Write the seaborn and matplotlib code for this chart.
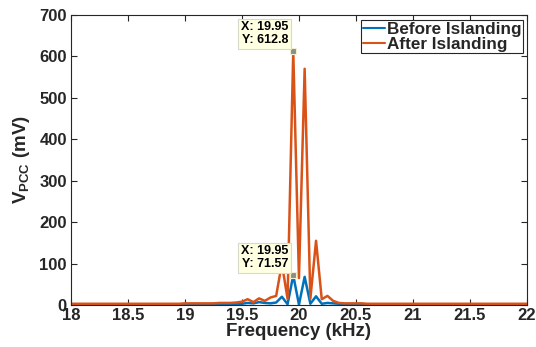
import matplotlib
matplotlib.use("Agg")
import matplotlib.pyplot as plt
import pandas as pd
import seaborn as sns

# Spectrum samples (kHz) and PCC voltage magnitude (mV)
freq_khz = [
    18.00, 18.05, 18.10, 18.15, 18.20, 18.25, 18.30, 18.35, 18.40, 18.45,
    18.50, 18.55, 18.60, 18.65, 18.70, 18.75, 18.80, 18.85, 18.90, 18.95,
    19.00, 19.05, 19.10, 19.15, 19.20, 19.25, 19.30, 19.35, 19.40, 19.45,
    19.50, 19.55, 19.60, 19.65, 19.70, 19.75, 19.80, 19.85, 19.90, 19.95,
    20.00, 20.05, 20.10, 20.15, 20.20, 20.25, 20.30, 20.35, 20.40, 20.45,
    20.50, 20.55, 20.60, 20.65, 20.70, 20.75, 20.80, 20.85, 20.90, 20.95,
    21.00, 21.05, 21.10, 21.15, 21.20, 21.25, 21.30, 21.35, 21.40, 21.45,
    21.50, 21.55, 21.60, 21.65, 21.70, 21.75, 21.80, 21.85, 21.90, 21.95,
    22.00,
]
before_mv = [
    1, 1, 1, 1, 1, 1, 1, 1, 1, 1,
    1, 1, 1, 1, 1, 1, 1, 1, 1, 1,
    2, 2, 2, 2, 2, 2, 2, 3, 3, 3,
    3, 5, 4, 7, 5, 4, 6, 20, 2, 71.57,
    1, 68, 3, 21, 3, 5, 4, 3, 2, 2,
    2, 2, 1, 1, 1, 1, 1, 1, 1, 1,
    1, 1, 1, 1, 1, 1, 1, 1, 1, 1,
    1, 1, 1, 1, 1, 1, 1, 1, 1, 1,
    1,
]
after_mv = [
    3, 3, 3, 3, 3, 3, 3, 3, 3, 3,
    3, 3, 3, 3, 3, 3, 3, 3, 3, 3,
    4, 4, 4, 4, 4, 4, 5, 5, 5, 6,
    8, 14, 7, 16, 10, 18, 22, 100, 15, 612.8,
    65, 570, 15, 155, 14, 22, 10, 5, 4, 4,
    4, 4, 3, 3, 3, 3, 3, 3, 3, 3,
    3, 3, 3, 3, 3, 3, 3, 3, 3, 3,
    3, 3, 3, 3, 3, 3, 3, 3, 3, 3,
    3,
]
series_names = ["Before Islanding", "After Islanding"]
series_colors = ["#0072BD", "#D95319"]

x_ticks = [18, 18.5, 19, 19.5, 20, 20.5, 21, 21.5, 22]
x_tick_labels = ["18", "18.5", "19", "19.5", "20", "20.5", "21", "21.5", "22"]
y_ticks = [0, 100, 200, 300, 400, 500, 600, 700]

# Data tips: (frequency, value)
tips = [(19.95, 612.8), (19.95, 71.57)]

sns.set_theme(style="ticks")
plt.rcParams["font.family"] = ["Liberation Sans", "DejaVu Sans"]
plt.rcParams["font.weight"] = "bold"
plt.rcParams["axes.labelweight"] = "bold"
plt.rcParams["mathtext.fontset"] = "custom"
plt.rcParams["mathtext.bf"] = "Liberation Sans:bold"
plt.rcParams["mathtext.rm"] = "Liberation Sans:bold"
plt.rcParams["mathtext.it"] = "Liberation Sans:bold"
plt.rcParams["mathtext.default"] = "bf"

df = pd.DataFrame({
    "Frequency": freq_khz + freq_khz,
    "V": before_mv + after_mv,
    "Series": [series_names[0]] * len(freq_khz) + [series_names[1]] * len(freq_khz),
})

fig = plt.figure(figsize=(5.36, 3.47), dpi=100)
ax = fig.add_axes([0.1325, 0.121, 0.8505, 0.836])

sns.lineplot(
    data=df, x="Frequency", y="V", hue="Series", hue_order=series_names,
    palette=series_colors, linewidth=1.8, estimator=None, sort=False, ax=ax,
)

ax.set_xlim(18, 22)
ax.set_ylim(0, 700)
ax.set_xticks(x_ticks)
ax.set_xticklabels(x_tick_labels)
ax.set_yticks(y_ticks)

for side in ["left", "right", "top", "bottom"]:
    ax.spines[side].set_visible(True)
    ax.spines[side].set_color("#262626")
    ax.spines[side].set_linewidth(0.8)

ax.tick_params(direction="in", length=4, width=0.8, top=True, right=True,
               labelsize=12, colors="#262626")
ax.tick_params(axis="x", pad=2)
ax.tick_params(axis="y", pad=3)
for lbl in ax.get_xticklabels() + ax.get_yticklabels():
    lbl.set_fontweight("bold")
    lbl.set_color("#262626")

ax.set_xlabel("Frequency (kHz)", fontsize=13.5, fontweight="bold", labelpad=0, color="#262626")
ax.set_ylabel("$V_{PCC}$ (mV)", fontsize=13.5, fontweight="bold", labelpad=5, color="#262626")

leg = ax.legend(
    loc="upper right", bbox_to_anchor=(523 / 536, 1 - 20 / 347),
    bbox_transform=fig.transFigure, borderaxespad=0, frameon=True,
    fancybox=False, edgecolor="#262626", framealpha=1, borderpad=0.1,
    handlelength=1.3, handletextpad=0.1, labelspacing=0.0,
    prop={"weight": "bold", "size": 12.3}, title=None,
)
leg.get_frame().set_linewidth(0.8)
for line in leg.get_lines():
    line.set_linewidth(1.5)

for tx, ty in tips:
    ax.plot([tx], [ty], marker="s", ms=4, mfc="#8c8c8c", mec="#f0f0d0",
            mew=0.8, linestyle="none", zorder=5)
    ax.annotate(
        f"X: {tx:g}\nY: {ty:g}", xy=(tx, ty), xytext=(-5, 5),
        textcoords="offset pixels", ha="right", va="bottom",
        fontsize=9, fontweight="bold", color="black", linespacing=1.1,
        bbox=dict(boxstyle="square,pad=0.2", fc="#FFFFE1", ec="#d9d9c8", lw=0.8),
        zorder=6, annotation_clip=False,
    )

fig.savefig("out.png", dpi=100)
